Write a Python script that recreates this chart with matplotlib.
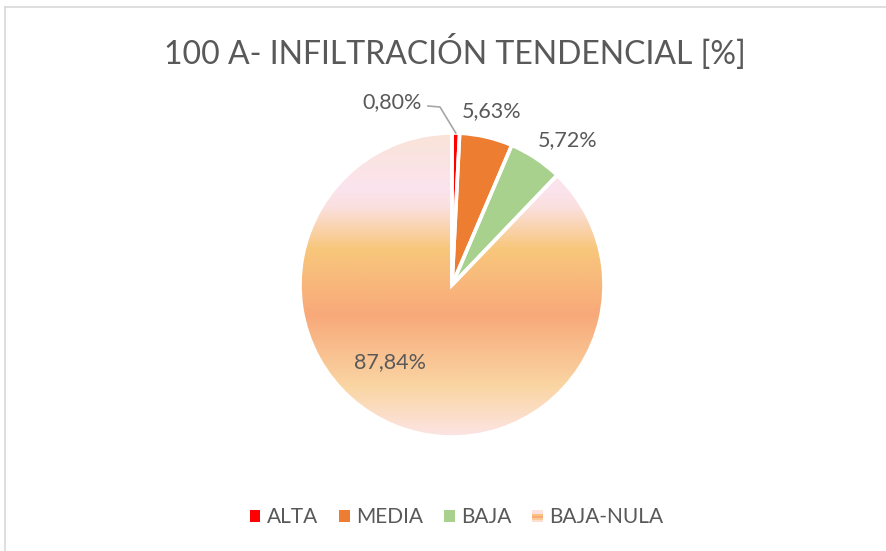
import matplotlib
matplotlib.use("Agg")
import matplotlib.pyplot as plt
import numpy as np
from matplotlib.patches import Wedge, Rectangle
from matplotlib.colors import LinearSegmentedColormap
from matplotlib.legend_handler import HandlerBase
from matplotlib.lines import Line2D

# ---------------- data ----------------
categories = ["ALTA", "MEDIA", "BAJA", "BAJA-NULA"]
values = [0.80, 5.63, 5.72, 87.84]
labels = ["0,80%", "5,63%", "5,72%", "87,84%"]
colors = ["#FF0000", "#ED7D31", "#A9D18E", "#F8B98A"]
title = "100 A- INFILTRACIÓN TENDENCIAL [%]"

# gradient stops for BAJA-NULA (top -> bottom of pie)
grad_pos = [0.0, 0.18, 0.24, 0.38, 0.60, 0.84, 1.0]
grad_col = ["#F9E3D8", "#FCE4EE", "#FBE0E0", "#F8C77C", "#F8A97A", "#FAD6A4", "#FCE4E4"]

TXT = "#595959"
FONT = ["Lato", "DejaVu Sans"]
W, H = 887, 551
fig = plt.figure(figsize=(W / 100, H / 100), dpi=100)

cx, cy, R = 452, 285, 152  # pixel layout of pie
ax = fig.add_axes([0, 0, 1, 1])
ax.axis("off")

wedges, _ = ax.pie(values, colors=colors, startangle=90, counterclock=False,
                   radius=1, wedgeprops=dict(edgecolor="white", linewidth=0))

# gradient fill clipped to BAJA-NULA wedge
cmap = LinearSegmentedColormap.from_list("g", list(zip(grad_pos, grad_col)))
grad = np.linspace(0, 1, 400).reshape(-1, 1)
im = ax.imshow(grad, cmap=cmap, extent=(-1, 1, -1, 1), origin="upper",
               aspect="auto", zorder=2, interpolation="bilinear")
im.set_clip_path(wedges[3])

# white separators
for w in wedges:
    ax.add_patch(Wedge(w.center, w.r, w.theta1, w.theta2, facecolor="none",
                       edgecolor="white", linewidth=2.6, zorder=3))

ax.set_xlim(-cx / R, (W - cx) / R)
ax.set_ylim(-(H - cy) / R, cy / R)

# data labels (layout positions in pixels)
lab_px = [(392, 102), (492, 111), (568, 140), (390, 362)]
for lab, (px, py) in zip(labels, lab_px):
    ax.text((px - cx) / R, (cy - py) / R, lab, ha="center", va="center",
            fontsize=15.5, color=TXT, family=FONT, zorder=5)

# leader line for the smallest slice
w0 = wedges[0]
mid = np.deg2rad((w0.theta1 + w0.theta2) / 2)
ex, ey = np.cos(mid), np.sin(mid)
pts = [((428 - cx) / R, (cy - 106) / R), ((440 - cx) / R, (cy - 107) / R), (ex, ey)]
ax.plot([p[0] for p in pts], [p[1] for p in pts], color="#A6A6A6", lw=1.2, zorder=4)

# title
fig.text(0.513, 1 - 52 / H, title, ha="center", va="center", fontsize=23,
         color=TXT, family=FONT)

# chart border (left and top visible)
fig.add_artist(Line2D([5.5 / W, 5.5 / W], [0, 1 - 7 / H], color="#D9D9D9", lw=1.2,
                      transform=fig.transFigure))
fig.add_artist(Line2D([5.5 / W, 1], [1 - 7 / H, 1 - 7 / H], color="#D9D9D9", lw=1.2,
                      transform=fig.transFigure))


class GradHandler(HandlerBase):
    def create_artists(self, legend, orig, xd, yd, width, height, fontsize, trans):
        arts = []
        n = 6
        cols = [cmap(v) for v in np.linspace(0.05, 0.95, n)][::-1]
        for i, c in enumerate(cols):
            arts.append(Rectangle((-xd, -yd + i * height / n), width, height / n,
                                  facecolor=c, edgecolor="none", transform=trans))
        return arts


class SqHandler(HandlerBase):
    def create_artists(self, legend, orig, xd, yd, width, height, fontsize, trans):
        return [Rectangle((-xd, -yd), width, height, facecolor=orig.get_facecolor(),
                          edgecolor="none", transform=trans)]


handles = [Rectangle((0, 0), 1, 1, facecolor=c) for c in colors]
hmap = {handles[i]: SqHandler() for i in range(3)}
hmap[handles[3]] = GradHandler()
leg = fig.legend(handles, categories, loc="center", bbox_to_anchor=(0.515, 1 - 517 / H),
                 ncol=4, frameon=False, handlelength=0.5, handleheight=0.5,
                 handletextpad=0.32, columnspacing=1.0, handler_map=hmap,
                 prop=dict(family=FONT, size=15))
for t in leg.get_texts():
    t.set_color(TXT)

fig.savefig("out.png", dpi=100, facecolor="white")
